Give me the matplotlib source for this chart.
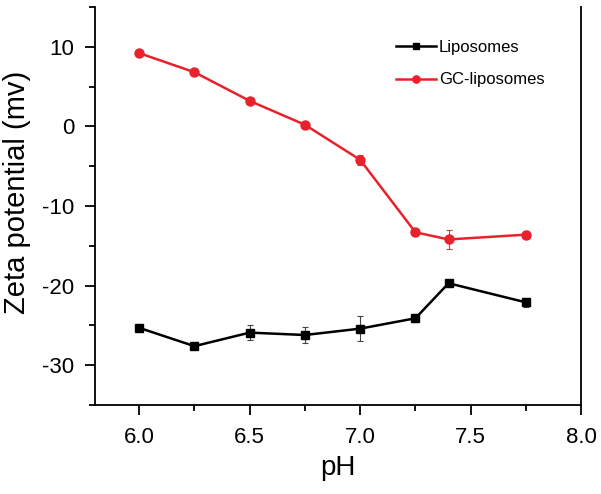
import matplotlib.pyplot as plt
from matplotlib.ticker import MultipleLocator

plt.rcParams["font.family"] = ["Liberation Sans", "DejaVu Sans"]
plt.rcParams["axes.unicode_minus"] = False

ph = [6.0, 6.25, 6.5, 6.75, 7.0, 7.25, 7.4, 7.75]

lipo = [-25.3, -27.6, -25.9, -26.2, -25.4, -24.1, -19.7, -22.1]
lipo_err = [0.3, 0.3, 0.9, 1.0, 1.6, 0.5, 0.3, 0.6]

gc_lipo = [9.2, 6.8, 3.2, 0.2, -4.2, -13.3, -14.2, -13.6]
gc_err = [0.3, 0.3, 0.3, 0.3, 0.6, 0.3, 1.2, 0.4]

fig = plt.figure(figsize=(6.01, 4.94), dpi=100)
ax = fig.add_axes([0.158, 0.180, 0.809, 0.806])

# error bars first, then the lines with markers on top
ax.errorbar(ph, lipo, yerr=lipo_err, fmt="none", elinewidth=0.8, capsize=2.5,
            capthick=0.8, ecolor="#444444")
ax.errorbar(ph, gc_lipo, yerr=gc_err, fmt="none", elinewidth=0.8, capsize=2.5,
            capthick=0.8, ecolor="#cc4444")
ax.plot(ph, lipo, color="black", marker="s", markersize=6, linewidth=1.8,
        label="Liposomes")
ax.plot(ph, gc_lipo, color="#e8222c", marker="o", markersize=6.5, linewidth=1.8,
        label="GC-liposomes")

ax.set_xlim(5.8, 8.0)
ax.set_ylim(-35, 15)
ax.xaxis.set_minor_locator(MultipleLocator(0.25))
ax.yaxis.set_minor_locator(MultipleLocator(5))
ax.set_xticks([6.0, 6.5, 7.0, 7.5, 8.0])
ax.set_yticks([-30, -20, -10, 0, 10])

ax.spines["top"].set_visible(False)
for s in ("left", "bottom", "right"):
    ax.spines[s].set_linewidth(1.3)

ax.tick_params(which="major", direction="out", length=7, width=1.3, labelsize=16,
               pad=8)
ax.tick_params(axis="x", which="major", pad=9)
ax.tick_params(which="minor", direction="out", length=4, width=1.3)
ax.tick_params(right=False, top=False, which="both")

ax.set_xlabel("pH", fontsize=20, labelpad=5)
ax.set_ylabel("Zeta potential (mv)", fontsize=21)
ax.yaxis.set_label_coords(-0.132, 0.535)

ax.legend(loc="upper right", bbox_to_anchor=(0.955, 0.955), frameon=False,
          fontsize=12, handlelength=2.4, labelspacing=1.05, handletextpad=0.15,
          markerscale=0.8)

fig.savefig("out.png", dpi=100)
